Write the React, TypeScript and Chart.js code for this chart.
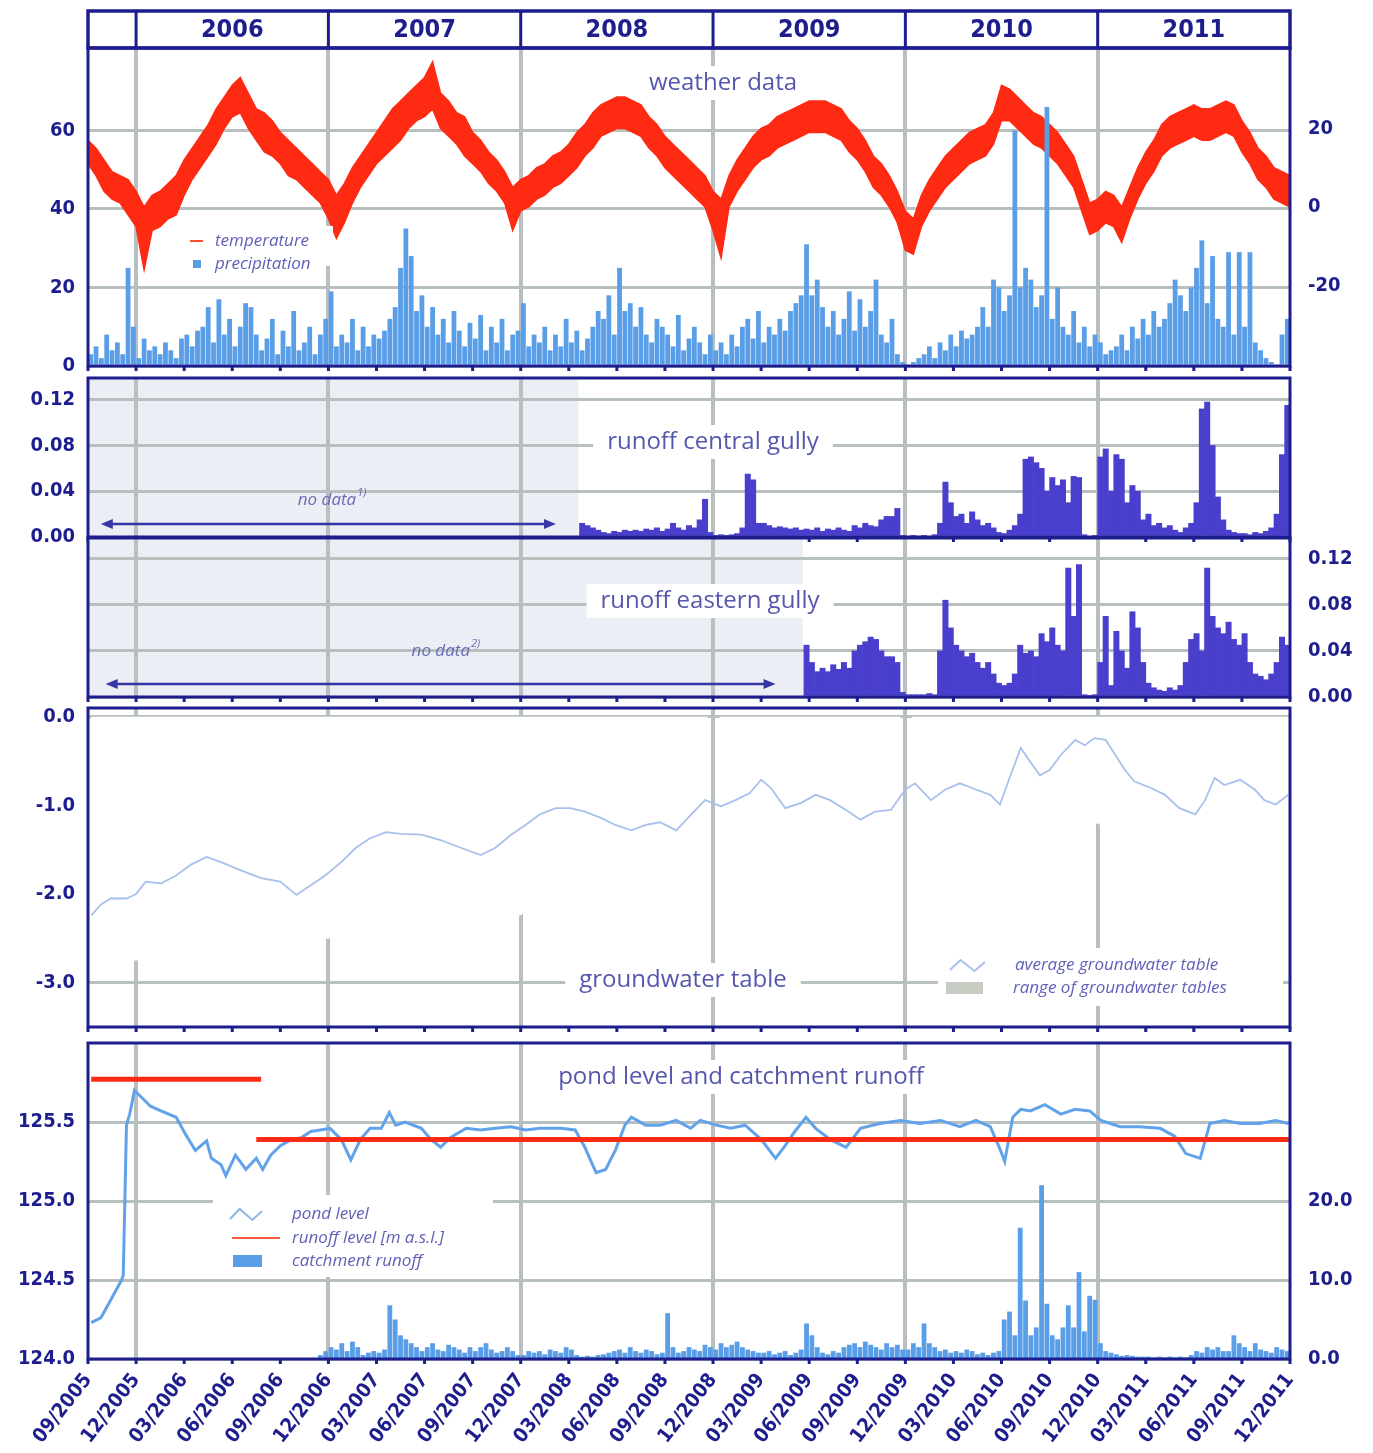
import React, { useEffect, useRef } from 'react';
import { Chart, registerables } from 'chart.js';
Chart.register(...registerables);

// ---------------- data ----------------
// x values are months counted from the end of 09/2005
const xTickLabels = ['09/2005','12/2005','03/2006','06/2006','09/2006','12/2006','03/2007','06/2007','09/2007','12/2007','03/2008','06/2008','09/2008','12/2008','03/2009','06/2009','09/2009','12/2009','03/2010','06/2010','09/2010','12/2010','03/2011','06/2011','09/2011','12/2011'];
const years = ['2006','2007','2008','2009','2010','2011'];
const yearStarts = [3, 15, 27, 39, 51, 63];
const xEnd = 75;

// temperature band (°C), every half month
const tempMax = [17,15,12,9,8,7,4,0,3,4, 6,8,12,15,18,21,25,28,31,33, 29,25,24,22,19,17,15,13,11,9, 7,3,6,10,13,16,19,22,25,27, 29,31,33,37,29,27,24,23,19,17, 14,12,9,5,7,8,10,11,13,14, 16,19,21,24,26,27,28,28,27,26, 23,21,18,16,14,12,10,8,4,2, 8,12,15,18,20,21,23,24,25,26, 27,27,27,26,25,22,20,17,13,11, 8,4,-1,-3,3,7,10,13,15,17, 19,20,21,24,31,30,28,26,24,23, 21,19,16,13,7,1,2,4,3,0, 5,10,14,17,21,23,24,25,26,25, 25,26,27,26,22,19,15,13,10,9, 8];
const tempMin = [11,8,4,2,1,-2,-5,-16,-6,-5, -3,-2,3,7,10,13,16,20,23,24, 20,17,14,13,11,8,7,5,3,1, -3,-8,-4,1,5,8,11,13,15,17, 20,22,23,25,20,18,16,13,11,9, 6,4,1,-6,-1,0,2,3,5,6, 8,10,13,15,18,19,20,20,19,18, 15,13,10,8,6,4,2,0,-6,-13, 0,4,7,10,12,13,15,16,17,18, 19,19,19,18,17,14,12,9,5,3, 0,-4,-11,-12,-5,-1,2,5,7,9, 11,12,13,16,22,22,20,18,16,15, 13,11,8,5,-1,-7,-6,-4,-5,-9, -3,2,6,9,13,15,16,17,18,17, 17,18,19,18,14,11,7,5,2,1, 0];

// precipitation (mm), three values per month from month 0
const precipitation = [3,5,2, 8,4,6, 3,25,10, 2,7,4, 5,3,6, 4,2,7, 8,5,9, 10,15,6, 17,8,12, 5,10,16, 15,8,4, 7,12,3, 9,5,14, 4,6,10, 3,8,12, 19,5,8, 6,12,4, 10,5,8, 7,9,12, 15,25,35, 28,14,18, 10,15,8, 12,6,14, 9,5,11, 7,13,4, 10,6,12, 4,8,9, 16,5,8, 6,10,4, 8,5,12, 6,9,4, 7,10,14, 12,18,8, 25,14,16, 10,15,8, 6,12,10, 8,5,13, 4,7,10, 6,3,8, 4,6,3, 8,5,10, 12,7,14, 6,10,8, 12,9,14, 16,18,31, 18,22,15, 10,14,8, 12,19,9, 17,10,14, 22,8,6, 12,3,1, 0,1,2, 3,5,2, 6,4,8, 5,9,7, 8,10,15, 10,22,20, 14,18,60, 20,25,22, 15,18,66, 12,20,10, 8,14,6, 10,5,8, 6,3,4, 5,8,4, 10,7,12, 8,14,10, 12,16,22, 18,14,20, 25,32,16, 28,12,10, 29,8,29, 10,29,6, 4,2,1, 0,8,12];

// runoff central gully (three values per month from month 30.67)
const centralStart = 30.667;
const centralRunoff = [0.012, 0.010,0.008,0.006, 0.004,0.003,0.005, 0.004,0.006,0.005, 0.006,0.005,0.007, 0.006,0.008,0.005, 0.007,0.012,0.008, 0.006,0.010,0.008, 0.015,0.033,0.004, 0.001,0.002,0.001, 0.002,0.003,0.008, 0.055,0.050,0.012, 0.012,0.010,0.008, 0.009,0.008,0.007, 0.008,0.006,0.007, 0.006,0.008,0.005, 0.007,0.006,0.008, 0.006,0.005,0.010, 0.008,0.012,0.010, 0.009,0.015,0.018, 0.018,0.025,0.001, 0.000,0.001,0.000, 0.001,0.000,0.002, 0.012,0.048,0.030, 0.018,0.020,0.012, 0.022,0.015,0.010, 0.012,0.008,0.004, 0.003,0.006,0.010, 0.020,0.068,0.070, 0.065,0.060,0.040, 0.052,0.045,0.050, 0.030,0.053,0.052, 0.002,0.000,0.001, 0.070,0.077,0.040, 0.072,0.068,0.030, 0.045,0.040,0.015, 0.020,0.010,0.012, 0.008,0.010,0.006, 0.004,0.008,0.012, 0.030,0.112,0.118, 0.080,0.035,0.015, 0.006,0.004,0.003, 0.003,0.002,0.004, 0.003,0.005,0.008, 0.020,0.072,0.115];

// runoff eastern gully (three values per month from month 44.67)
const easternStart = 44.667;
const easternRunoff = [0.045, 0.030,0.022,0.025, 0.022,0.028,0.024, 0.030,0.025,0.040, 0.045,0.048,0.052, 0.050,0.040,0.035, 0.035,0.030,0.004, 0.002,0.002,0.002, 0.002,0.003,0.002, 0.040,0.084,0.060, 0.045,0.040,0.035, 0.038,0.030,0.025, 0.030,0.020,0.012, 0.010,0.012,0.020, 0.045,0.038,0.040, 0.035,0.055,0.048, 0.060,0.045,0.040, 0.112,0.070,0.115, 0.002,0.001,0.002, 0.030,0.070,0.010, 0.057,0.040,0.025, 0.074,0.060,0.030, 0.012,0.008,0.006, 0.005,0.008,0.006, 0.010,0.030,0.050, 0.055,0.040,0.112, 0.070,0.060,0.055, 0.065,0.050,0.045, 0.055,0.030,0.020, 0.018,0.015,0.020, 0.030,0.052,0.045];

// groundwater table (m below surface)
const gwMonths = [0.2,0.8,1.4,2.4,3.0,3.6,4.55,5.5,6.4,7.4,8.3,9.5,10.8,12.0,13.0,13.9,14.8,15.8,16.7,17.6,18.6,19.5,20.8,22.0,23.3,24.5,25.4,26.4,27.3,28.2,29.2,30.1,31.0,32.0,32.9,33.9,34.8,35.7,36.7,37.6,38.5,39.5,40.4,41.3,42.0,42.6,43.5,44.5,45.4,46.3,47.3,48.2,49.1,50.1,51.0,51.6,52.6,53.5,54.4,55.4,56.3,56.9,57.5,58.2,58.8,59.4,60.0,60.7,61.6,62.2,62.8,63.5,64.1,64.7,65.3,66.3,67.2,68.1,69.1,69.7,70.3,70.9,71.9,72.8,73.4,74.1,74.9];
const gwAverage = [-2.24,-2.12,-2.05,-2.05,-2.0,-1.86,-1.88,-1.79,-1.67,-1.58,-1.64,-1.73,-1.82,-1.86,-2.01,-1.90,-1.79,-1.64,-1.48,-1.37,-1.30,-1.32,-1.33,-1.39,-1.48,-1.56,-1.48,-1.33,-1.22,-1.10,-1.03,-1.03,-1.07,-1.14,-1.22,-1.28,-1.22,-1.19,-1.28,-1.11,-0.94,-1.01,-0.94,-0.86,-0.71,-0.80,-1.03,-0.97,-0.88,-0.94,-1.05,-1.16,-1.07,-1.05,-0.82,-0.75,-0.94,-0.82,-0.75,-0.82,-0.88,-0.99,-0.69,-0.35,-0.51,-0.66,-0.60,-0.43,-0.26,-0.32,-0.24,-0.26,-0.43,-0.60,-0.73,-0.80,-0.88,-1.03,-1.10,-0.94,-0.69,-0.77,-0.71,-0.82,-0.94,-0.99,-0.88];
// range of groundwater tables: from the surface (0.0) down to this lower envelope; null = no record
const gwRangeTop = 0;
const gwRangeMonths = [0.2,3,6,9,12,15,18,21,24,27,29.5,30.7,33,36,38.7,39.05,39.4,42,44,45,47.6,49,50.7,51.05,51.4,54,57,60,63,66,69,72,75];
const gwRangeLower = [-2.75,-2.75,-2.7,-2.6,-2.55,-2.5,-2.45,-2.4,-2.3,-2.24,-1.9,-1.9,-2.1,-2.1,-2.05,null,-1.9,-1.9,-1.95,-2.1,-1.9,-2.1,-1.9,null,-2.1,-2.2,-1.9,-1.5,-1.2,-1.6,-1.9,-1.9,-1.9];
const gwGridShown = [0, -3];

// pond level (m a.s.l.)
const pondMonths = [0.2,0.8,1.4,2.1,2.2,2.4,2.6,2.9,3.3,3.9,4.55,5.5,6.1,6.7,7.4,7.7,8.3,8.6,9.2,9.85,10.5,10.9,11.4,12.0,12.7,13.3,13.9,14.5,15.1,15.8,16.4,17.0,17.6,18.3,18.8,19.2,19.8,20.8,21.4,22.0,22.6,23.6,24.5,25.4,26.4,27.3,28.2,29.5,30.4,31.0,31.7,32.3,32.9,33.5,33.9,34.8,35.7,36.7,37.6,38.2,39.2,40.1,41.0,42.0,42.9,43.5,44.1,44.8,45.4,46.3,47.3,48.2,49.4,50.7,51.9,53.2,54.4,55.4,56.3,56.9,57.2,57.7,58.2,58.8,59.7,60.7,61.6,62.5,63.2,64.4,65.6,66.9,67.8,68.5,69.4,70.0,70.9,71.9,73.1,74.1,74.9];
const pondLevel = [124.23,124.26,124.37,124.50,124.53,125.48,125.55,125.70,125.66,125.60,125.57,125.53,125.42,125.32,125.38,125.27,125.23,125.16,125.29,125.20,125.27,125.20,125.29,125.35,125.39,125.40,125.44,125.45,125.46,125.39,125.26,125.39,125.46,125.46,125.56,125.48,125.50,125.46,125.39,125.34,125.40,125.46,125.45,125.46,125.47,125.45,125.46,125.46,125.45,125.34,125.18,125.20,125.32,125.48,125.53,125.48,125.48,125.51,125.46,125.51,125.48,125.46,125.48,125.39,125.27,125.35,125.44,125.53,125.46,125.39,125.34,125.46,125.49,125.51,125.49,125.51,125.47,125.51,125.47,125.33,125.25,125.53,125.58,125.57,125.61,125.55,125.58,125.57,125.51,125.47,125.47,125.46,125.41,125.30,125.27,125.49,125.51,125.49,125.49,125.51,125.49];

// runoff level periods: [from month, to month, level m a.s.l.]
const runoffLevelPeriods = [[0.2, 10.8, 125.77], [10.5, 75, 125.39]];

// catchment runoff, three values per month from month 14
const catchmentStart = 14;
const catchmentRunoff = [0,0.5,1.0, 1.5,1.2,2.0, 1.0,2.2,1.5, 0.5,0.8,1.0, 0.8,1.2,6.8, 5.0,3.0,2.5, 2.0,1.5,1.0, 1.5,2.0,1.2, 1.0,1.8,1.5, 1.2,0.8,1.5, 1.0,1.5,2.0, 1.2,0.8,1.0, 1.5,1.0,0.5, 0.5,1.0,0.8, 1.0,0.6,1.2, 1.0,0.8,1.5, 1.2,0.5,0.3, 0.4,0.3,0.5, 0.6,0.8,1.0, 1.2,0.8,1.5, 1.0,0.8,1.2, 1.0,0.6,0.8, 5.8,1.5,0.8, 1.0,1.5,1.2, 1.0,1.8,1.5, 1.2,2.0,1.5, 1.8,2.2,1.5, 1.2,1.0,0.8, 0.8,1.0,0.6, 0.8,1.0,0.5, 0.8,1.2,4.5, 3.0,1.5,0.8, 0.6,1.0,0.8, 1.5,1.8,2.0, 1.5,2.2,1.8, 1.5,1.2,2.0, 1.5,1.8,1.2, 1.2,2.0,1.5, 4.5,2.0,1.5, 1.0,1.2,0.8, 1.0,0.8,1.2, 1.0,0.6,0.8, 0.5,0.8,1.0, 5.0,6.0,3.0, 16.6,7.4,3.0, 4.0,22.0,7.0, 3.0,2.5,4.0, 6.8,4.0,11.0, 3.5,8.0,7.5, 2.0,1.0,0.8, 0.6,0.4,0.5, 0.4,0.3,0.3, 0.3,0.2,0.3, 0.2,0.3,0.2, 0.3,0.2,0.5, 1.0,0.8,1.5, 1.2,1.5,1.0, 1.0,3.0,2.0, 1.5,1.0,2.0, 1.2,1.0,0.8, 1.5,1.2,1.0];

// ---------------- style ----------------
const NAVY = '#1d1d8e';
const GRID = '#b7c0be';
const RED = '#ff2a12';
const BLUE = '#5b9ee8';
const PURPLE = '#4a3fcc';
const TITLE_C = '#5557ad';
const LEG_C = '#6060b8';
const TICK_FONT = { family: '"DejaVu Sans Condensed", "DejaVu Sans", sans-serif', size: 20, weight: 'bold' as const };
const TITLE_FONT = '24px "Open Sans", "Noto Sans", sans-serif';
const LEG_FONT = 'italic 17px "Open Sans", "Noto Sans", sans-serif';
const W = 1373;
const PAD = 30; // vertical canvas padding around every plot area

const thirds = (arr: number[], start: number) => arr.map((v, i) => ({ x: start + (i + 0.5) / 3, y: v }));
const halves = (arr: number[]) => arr.map((v, i) => ({ x: i * 0.5, y: v }));
const pairs = (xs: number[], ys: (number | null)[]) => xs.map((x, i) => ({ x, y: ys[i] }));

function xAxis(labels: boolean, height: number): any {
  return {
    type: 'linear', min: 0, max: xEnd, offset: false,
    afterBuildTicks: (s: any) => { s.ticks = xTickLabels.map((_, i) => ({ value: i * 3 })); },
    afterFit: (s: any) => { s.height = height; },
    grid: { offset: false, drawTicks: false, lineWidth: 4, color: (c: any) => (c.tick && yearStarts.includes(c.tick.value) ? GRID : 'rgba(0,0,0,0)') },
    border: { display: false },
    ticks: { display: labels, autoSkip: false, minRotation: 52, maxRotation: 52, padding: 10, color: NAVY, font: TICK_FONT,
      callback: (v: any) => xTickLabels[Math.round(Number(v) / 3)] },
  };
}

function yAxis(pos: 'left' | 'right', min: number, max: number, ticks: number[], digits: number, grid: boolean, width: number, gridColor: any = GRID): any {
  return {
    type: 'linear', position: pos, min, max,
    afterBuildTicks: (s: any) => { s.ticks = ticks.map((v) => ({ value: v })); },
    afterFit: (s: any) => { s.width = width; },
    grid: { display: grid, drawTicks: false, lineWidth: 3, color: gridColor },
    border: { display: false },
    ticks: { color: NAVY, font: TICK_FONT, padding: pos === 'left' ? 13 : 18, callback: (v: any) => Number(v).toFixed(digits) },
  };
}

type LegendItem = { kind: 'line' | 'square' | 'zig' | 'rect'; color: string; text: string; dx: number; dy: number; tx: number };
type Decor = {
  header?: boolean;
  title?: { text: string; cx: number; dy: number };
  legend?: { items: LegendItem[]; bg?: [number, number, number, number] };
  noData?: { until: number; sup: string; textX: number; textDy: number; from: number; to: number; arrowDy: number };
};

function arrowHead(ctx: CanvasRenderingContext2D, x: number, y: number, dir: number) {
  ctx.beginPath();
  ctx.moveTo(x, y);
  ctx.lineTo(x - dir * 12, y - 5);
  ctx.lineTo(x - dir * 12, y + 5);
  ctx.closePath();
  ctx.fill();
}

function decorPlugin(d: Decor): any {
  return {
    id: 'decor',
    beforeDraw(chart: any) {
      const { ctx, chartArea: a, scales } = chart;
      if (d.noData) {
        const xr = scales.x.getPixelForValue(d.noData.until);
        ctx.save();
        ctx.fillStyle = '#eceef5';
        ctx.fillRect(a.left, a.top, xr - a.left, a.bottom - a.top);
        ctx.restore();
      }
    },
    afterDraw(chart: any) {
      const { ctx, chartArea: a, scales } = chart;
      const xs = scales.x;
      ctx.save();
      if (d.title) {
        ctx.font = TITLE_FONT;
        const w = ctx.measureText(d.title.text).width;
        const cy = a.top + d.title.dy;
        ctx.fillStyle = '#ffffff';
        ctx.fillRect(d.title.cx - w / 2 - 14, cy - 17, w + 28, 34);
        ctx.fillStyle = TITLE_C;
        ctx.textAlign = 'center';
        ctx.textBaseline = 'middle';
        ctx.fillText(d.title.text, d.title.cx, cy);
      }
      if (d.noData) {
        const n = d.noData;
        const y = a.top + n.arrowDy;
        const x1 = xs.getPixelForValue(n.from);
        const x2 = xs.getPixelForValue(n.to);
        ctx.strokeStyle = '#3636a6';
        ctx.fillStyle = '#3636a6';
        ctx.lineWidth = 2.5;
        ctx.beginPath();
        ctx.moveTo(x1 + 6, y);
        ctx.lineTo(x2 - 6, y);
        ctx.stroke();
        arrowHead(ctx, x1, y, -1);
        arrowHead(ctx, x2, y, 1);
        ctx.font = 'italic 17px "Open Sans", "Noto Sans", sans-serif';
        const main = 'no data';
        const w1 = ctx.measureText(main).width;
        ctx.font = 'italic 11px "Open Sans", "Noto Sans", sans-serif';
        const w2 = ctx.measureText(n.sup).width;
        const tx = xs.getPixelForValue(n.textX) - (w1 + w2) / 2;
        const ty = a.top + n.textDy;
        ctx.fillStyle = '#6a6ab6';
        ctx.textBaseline = 'middle';
        ctx.textAlign = 'left';
        ctx.font = 'italic 17px "Open Sans", "Noto Sans", sans-serif';
        ctx.fillText(main, tx, ty);
        ctx.font = 'italic 11px "Open Sans", "Noto Sans", sans-serif';
        ctx.fillText(n.sup, tx + w1 + 1, ty - 7);
      }
      if (d.legend) {
        const L = d.legend;
        if (L.bg) {
          ctx.fillStyle = '#ffffff';
          ctx.fillRect(a.left + L.bg[0], a.top + L.bg[1], L.bg[2], L.bg[3]);
        }
        for (const it of L.items) {
          const x = a.left + it.dx;
          const y = a.top + it.dy;
          ctx.fillStyle = it.color;
          ctx.strokeStyle = it.color;
          if (it.kind === 'line') {
            ctx.lineWidth = 2;
            ctx.beginPath(); ctx.moveTo(x, y); ctx.lineTo(x + (it.tx - it.dx) - 12, y); ctx.stroke();
          } else if (it.kind === 'square') {
            ctx.fillRect(x, y - 4, 8, 8);
          } else if (it.kind === 'zig') {
            const w = it.tx - it.dx - 30;
            ctx.lineWidth = 2;
            ctx.beginPath();
            ctx.moveTo(x, y + 5); ctx.lineTo(x + w * 0.3, y - 5); ctx.lineTo(x + w * 0.7, y + 6); ctx.lineTo(x + w, y - 3);
            ctx.stroke();
          } else if (it.kind === 'rect') {
            const w = it.tx - it.dx - 30;
            ctx.fillRect(x, y - 6, w, 12);
          }
          ctx.fillStyle = LEG_C;
          ctx.font = LEG_FONT;
          ctx.textAlign = 'left';
          ctx.textBaseline = 'middle';
          ctx.fillText(it.text, a.left + it.tx, y);
        }
      }
      ctx.strokeStyle = NAVY;
      ctx.lineWidth = 3;
      ctx.strokeRect(a.left, a.top, a.right - a.left, a.bottom - a.top);
      ctx.lineWidth = 3;
      xTickLabels.forEach((_, i) => {
        const px = xs.getPixelForValue(i * 3);
        ctx.beginPath(); ctx.moveTo(px, a.bottom); ctx.lineTo(px, a.bottom + 5); ctx.stroke();
      });
      if (d.header) {
        const top = 11;
        ctx.lineWidth = 3.5;
        ctx.strokeRect(a.left, top, a.right - a.left, a.top - top);
        const bounds = [...yearStarts, xEnd];
        ctx.lineWidth = 3;
        yearStarts.forEach((ys) => {
          const px = xs.getPixelForValue(ys);
          ctx.beginPath(); ctx.moveTo(px, top); ctx.lineTo(px, a.top); ctx.stroke();
        });
        ctx.fillStyle = NAVY;
        ctx.font = 'bold 25px "DejaVu Sans Condensed", "DejaVu Sans", sans-serif';
        ctx.textAlign = 'center';
        ctx.textBaseline = 'middle';
        years.forEach((yr, i) => {
          const cx = (xs.getPixelForValue(bounds[i]) + xs.getPixelForValue(bounds[i + 1])) / 2;
          ctx.fillText(yr, cx, (top + a.top) / 2 + 1);
        });
      }
      ctx.restore();
    },
  };
}

const baseOptions = (padding: any, scales: any): any => ({
  responsive: false,
  maintainAspectRatio: false,
  animation: false,
  events: [],
  layout: { padding },
  plugins: { legend: { display: false }, tooltip: { enabled: false } },
  scales,
});

function weatherConfig(): any {
  return {
    type: 'bar',
    data: {
      datasets: [
        { type: 'bar', label: 'precipitation', data: thirds(precipitation, 0), backgroundColor: BLUE, barPercentage: 0.9, categoryPercentage: 1, yAxisID: 'y', order: 0 },
        { type: 'line', label: 'temperature max', data: halves(tempMax), yAxisID: 'yT', borderColor: RED, borderWidth: 1.5, pointRadius: 0, fill: false, order: 1 },
        { type: 'line', label: 'temperature min', data: halves(tempMin), yAxisID: 'yT', borderColor: RED, backgroundColor: RED, borderWidth: 1.5, pointRadius: 0, fill: 1, order: 2 },
      ],
    },
    options: baseOptions({ top: 48, bottom: PAD, left: 0, right: 0 }, {
      x: xAxis(false, 0),
      y: yAxis('left', 0, 81, [0, 20, 40, 60], 0, true, 88),
      yT: yAxis('right', -40.5, 40.5, [-20, 0, 20], 0, false, 83),
    }),
    plugins: [decorPlugin({
      header: true,
      title: { text: 'weather data', cx: 723, dy: 35 },
      legend: {
        bg: [95, 178, 150, 40],
        items: [
          { kind: 'line', color: '#ff5030', text: 'temperature', dx: 102, dy: 193, tx: 127 },
          { kind: 'square', color: BLUE, text: 'precipitation', dx: 105, dy: 216, tx: 127 },
        ],
      },
    })],
  };
}

function centralConfig(): any {
  return {
    type: 'bar',
    data: { datasets: [{ label: 'runoff central gully', data: thirds(centralRunoff, centralStart), backgroundColor: PURPLE, barPercentage: 1, categoryPercentage: 1 }] },
    options: baseOptions({ top: PAD, bottom: PAD, left: 0, right: 83 }, {
      x: xAxis(false, 0),
      y: yAxis('left', 0, 0.139, [0, 0.04, 0.08, 0.12], 2, true, 88),
    }),
    plugins: [decorPlugin({
      title: { text: 'runoff central gully', cx: 713, dy: 64 },
      noData: { until: 30.6, sup: '1)', textX: 15.2, textDy: 122, from: 0.8, to: 29.2, arrowDy: 146 },
    })],
  };
}

function easternConfig(): any {
  return {
    type: 'bar',
    data: { datasets: [{ label: 'runoff eastern gully', data: thirds(easternRunoff, easternStart), backgroundColor: PURPLE, barPercentage: 1, categoryPercentage: 1 }] },
    options: baseOptions({ top: PAD, bottom: PAD, left: 88, right: 0 }, {
      x: xAxis(false, 0),
      y: yAxis('right', 0, 0.138, [0, 0.04, 0.08, 0.12], 2, true, 83),
    }),
    plugins: [decorPlugin({
      title: { text: 'runoff eastern gully', cx: 710, dy: 63 },
      noData: { until: 44.6, sup: '2)', textX: 22.3, textDy: 113, from: 1.1, to: 42.9, arrowDy: 146 },
    })],
  };
}

function groundwaterConfig(): any {
  return {
    type: 'line',
    data: {
      datasets: [
        { label: 'average groundwater table', data: pairs(gwMonths, gwAverage), borderColor: '#a9c0ec', borderWidth: 1.8, pointRadius: 0, fill: false, order: 0 },
        { label: 'range of groundwater tables', data: pairs(gwRangeMonths, gwRangeLower), borderWidth: 0, borderColor: 'rgba(0,0,0,0)', backgroundColor: '#ffffff', pointRadius: 0, fill: { value: gwRangeTop }, spanGaps: false, order: 1 },
      ],
    },
    options: baseOptions({ top: PAD, bottom: PAD, left: 0, right: 83 }, {
      x: xAxis(false, 0),
      y: yAxis('left', -3.5, 0.1, [0, -1, -2, -3], 1, true, 88,
        (c: any) => (c.tick && gwGridShown.includes(c.tick.value) ? GRID : 'rgba(0,0,0,0)')),
    }),
    plugins: [decorPlugin({
      title: { text: 'groundwater table', cx: 683, dy: 272 },
      legend: {
        bg: [850, 240, 345, 58],
        items: [
          { kind: 'zig', color: '#a9c0ec', text: 'average groundwater table', dx: 862, dy: 257, tx: 927 },
          { kind: 'rect', color: '#c6ccc2', text: 'range of groundwater tables', dx: 858, dy: 280, tx: 925 },
        ],
      },
    })],
  };
}

function pondConfig(): any {
  const levelSets = runoffLevelPeriods.map((p, i) => ({
    type: 'line', label: 'runoff level ' + i, data: [{ x: p[0], y: p[2] }, { x: p[1], y: p[2] }], yAxisID: 'y',
    borderColor: RED, borderWidth: 5, pointRadius: 0, fill: false, order: 0,
  }));
  return {
    type: 'bar',
    data: {
      datasets: [
        ...levelSets,
        { type: 'line', label: 'pond level', data: pairs(pondMonths, pondLevel), yAxisID: 'y', borderColor: '#62a2ea', borderWidth: 3, pointRadius: 0, fill: false, order: 1 },
        { type: 'bar', label: 'catchment runoff', data: thirds(catchmentRunoff, catchmentStart), yAxisID: 'yR', backgroundColor: BLUE, barPercentage: 0.9, categoryPercentage: 1, order: 2 },
      ],
    },
    options: baseOptions({ top: PAD, bottom: 0, left: 0, right: 0 }, {
      x: xAxis(true, 94),
      y: yAxis('left', 124, 126, [124, 124.5, 125, 125.5], 1, true, 88),
      yR: yAxis('right', 0, 40, [0, 10, 20], 1, false, 83),
    }),
    plugins: [decorPlugin({
      title: { text: 'pond level and catchment runoff', cx: 741, dy: 34 },
      legend: {
        bg: [125, 152, 280, 82],
        items: [
          { kind: 'zig', color: '#8fb6e8', text: 'pond level', dx: 142, dy: 171, tx: 204 },
          { kind: 'line', color: '#ff5a3c', text: 'runoff level [m a.s.l.]', dx: 144, dy: 195, tx: 204 },
          { kind: 'rect', color: BLUE, text: 'catchment runoff', dx: 145, dy: 218, tx: 204 },
        ],
      },
    })],
  };
}

function Panel({ top, height, build }: { top: number; height: number; build: () => any }) {
  const ref = useRef<HTMLCanvasElement>(null);
  useEffect(() => {
    const chart = new Chart(ref.current as HTMLCanvasElement, build());
    return () => chart.destroy();
  }, []);
  return <canvas ref={ref} width={W} height={height} style={{ position: 'absolute', left: 0, top, width: W, height, display: 'block' }} />;
}

// plot areas (page px): weather 48-366, central 378-537, eastern 538-697, groundwater 708-1027, pond 1043-1359
export default function App() {
  return (
    <div style={{ position: 'absolute', left: 0, top: 0, width: W, height: 1453, background: '#ffffff', overflow: 'hidden' }}>
      <Panel top={0} height={366 + PAD} build={weatherConfig} />
      <Panel top={378 - PAD} height={159 + 2 * PAD} build={centralConfig} />
      <Panel top={538 - PAD} height={159 + 2 * PAD} build={easternConfig} />
      <Panel top={708 - PAD} height={319 + 2 * PAD} build={groundwaterConfig} />
      <Panel top={1043 - PAD} height={1453 - 1043 + PAD} build={pondConfig} />
    </div>
  );
}
